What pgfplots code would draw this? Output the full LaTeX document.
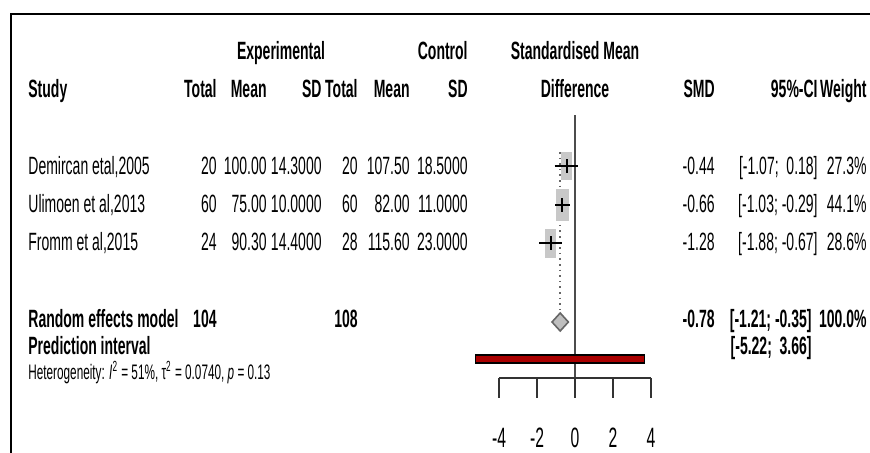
\documentclass[border=0pt]{standalone}
\usepackage{pgfplots}
\pgfplotsset{compat=1.18}
\usepackage{fontspec}
\setmainfont{Liberation Sans}[FakeStretch=0.56]
\definecolor{predred}{RGB}{170,0,0}
\definecolor{sqgray}{RGB}{200,200,200}
\begin{document}
\begin{tikzpicture}[x=0.5pt,y=-0.5pt,
  t/.style={inner sep=0pt, font=\fontsize{12.5}{14}\selectfont},
  tb/.style={inner sep=0pt, font=\fontsize{12.5}{14}\selectfont\bfseries},
  tk/.style={inner sep=0pt, font=\fontsize{14}{16}\selectfont},
  ts/.style={inner sep=0pt, font=\fontsize{10.5}{12}\selectfont}]
\useasboundingbox (0,0) rectangle (870,453);
\begin{axis}[at={(0,0)}, anchor=north west, scale only axis,
  width=435pt, height=226.5pt,
  xmin=-30.2632, xmax=15.5263, ymin=0, ymax=453, y dir=reverse,
  hide axis, clip=false]
% zero line
\addplot[draw=black!70, line width=1pt] coordinates {(0,115) (0,378)};
% dotted line at pooled estimate
\addplot[draw=black!60, line width=0.8pt, dotted] coordinates {(-0.78,152) (-0.78,312)};
% squares
\addplot[fill=sqgray, draw=none] coordinates {(-0.716,152) (-0.164,152) (-0.164,180) (-0.716,180)} -- cycle;
\addplot[fill=sqgray, draw=none] coordinates {(-1.013,189) (-0.307,189) (-0.307,221) (-1.013,221)} -- cycle;
\addplot[fill=sqgray, draw=none] coordinates {(-1.564,228.5) (-0.996,228.5) (-0.996,257.5) (-1.564,257.5)} -- cycle;
% CIs
\addplot[draw=black, line width=1.2pt] coordinates {(-1.07,166) (0.18,166)};
\addplot[draw=black, line width=1.2pt] coordinates {(-1.03,205) (-0.29,205)};
\addplot[draw=black, line width=1.2pt] coordinates {(-1.88,243) (-0.67,243)};
% estimate marks
\addplot[draw=black, line width=1pt] coordinates {(-0.44,159) (-0.44,173)};
\addplot[draw=black, line width=1pt] coordinates {(-0.66,198) (-0.66,212)};
\addplot[draw=black, line width=1pt] coordinates {(-1.28,236) (-1.28,250)};
% diamond
\addplot[fill=black!25, draw=black!60, line width=0.8pt] coordinates {(-1.21,322) (-0.78,313) (-0.35,322) (-0.78,331)} -- cycle;
% prediction interval
\addplot[fill=predred, draw=black, line width=0.6pt] coordinates {(-5.22,355) (3.66,355) (3.66,363) (-5.22,363)} -- cycle;
% x axis
\addplot[draw=black!80, line width=1pt] coordinates {(-4,378) (4,378)};
\addplot[draw=black!80, line width=1pt] coordinates {(-4,378) (-4,398)};
\addplot[draw=black!80, line width=1pt] coordinates {(-2,378) (-2,398)};
\addplot[draw=black!80, line width=1pt] coordinates {(0,378) (0,398)};
\addplot[draw=black!80, line width=1pt] coordinates {(2,378) (2,398)};
\addplot[draw=black!80, line width=1pt] coordinates {(4,378) (4,398)};
\node[tk, anchor=base] at (axis cs:-4,447) {-4};
\node[tk, anchor=base] at (axis cs:-2,447) {-2};
\node[tk, anchor=base] at (axis cs:0,447) {0};
\node[tk, anchor=base] at (axis cs:2,447) {2};
\node[tk, anchor=base] at (axis cs:4,447) {4};
\end{axis}
% border
\draw[line width=1.35pt] (11,453) -- (11,14) -- (870,14);
% headers
\node[tb, anchor=base] at (281,60) {Experimental};
\node[tb, anchor=base east] at (468,60) {Control};
\node[tb, anchor=base] at (575,60) {Standardised Mean};
\node[tb, anchor=base west] at (28,98) {Study};
\node[tb, anchor=base east] at (217,98) {Total};
\node[tb, anchor=base east] at (267,98) {Mean};
\node[tb, anchor=base east] at (322,98) {SD};
\node[tb, anchor=base east] at (358,98) {Total};
\node[tb, anchor=base east] at (410,98) {Mean};
\node[tb, anchor=base east] at (468,98) {SD};
\node[tb, anchor=base] at (575,98) {Difference};
\node[tb, anchor=base east] at (715,98) {SMD};
\node[tb, anchor=base east] at (818,98) {95\%-CI};
\node[tb, anchor=base east] at (867,98) {Weight};
% study rows
\foreach \y/\st/\ne/\me/\se/\nc/\mc/\sc/\smd/\ci/\w in {
  175/Demircan etal{,}2005/20/100.00/14.3000/20/107.50/18.5000/-0.44/{[-1.07;\ \ 0.18]}/27.3\%,
  213/Ulimoen et al{,}2013/60/75.00/10.0000/60/82.00/11.0000/-0.66/{[-1.03; -0.29]}/44.1\%,
  251/Fromm et al{,}2015/24/90.30/14.4000/28/115.60/23.0000/-1.28/{[-1.88; -0.67]}/28.6\%}{
  \node[t, anchor=base west] at (28,\y) {\st};
  \node[t, anchor=base east] at (217,\y) {\ne};
  \node[t, anchor=base east] at (267,\y) {\me};
  \node[t, anchor=base east] at (322,\y) {\se};
  \node[t, anchor=base east] at (358,\y) {\nc};
  \node[t, anchor=base east] at (410,\y) {\mc};
  \node[t, anchor=base east] at (468,\y) {\sc};
  \node[t, anchor=base east] at (715,\y) {\smd};
  \node[t, anchor=base east] at (818,\y) {\ci};
  \node[t, anchor=base east] at (867,\y) {\w};
}
% pooled
\node[tb, anchor=base west] at (28,328) {Random effects model};
\node[tb, anchor=base east] at (217,328) {104};
\node[tb, anchor=base east] at (358,328) {108};
\node[tb, anchor=base east] at (715,328) {-0.78};
\node[tb, anchor=base east] at (812,328) {[-1.21; -0.35]};
\node[tb, anchor=base east] at (867,328) {100.0\%};
\node[tb, anchor=base west] at (28,354) {Prediction interval};
\node[tb, anchor=base east] at (812,354) {[-5.22;\ \ 3.66]};
\node[ts, anchor=base west] at (28,379) {Heterogeneity: \textit{I}\textsuperscript{2} = 51\%, τ\textsuperscript{2} = 0.0740, \textit{p} = 0.13};
\end{tikzpicture}
\end{document}
